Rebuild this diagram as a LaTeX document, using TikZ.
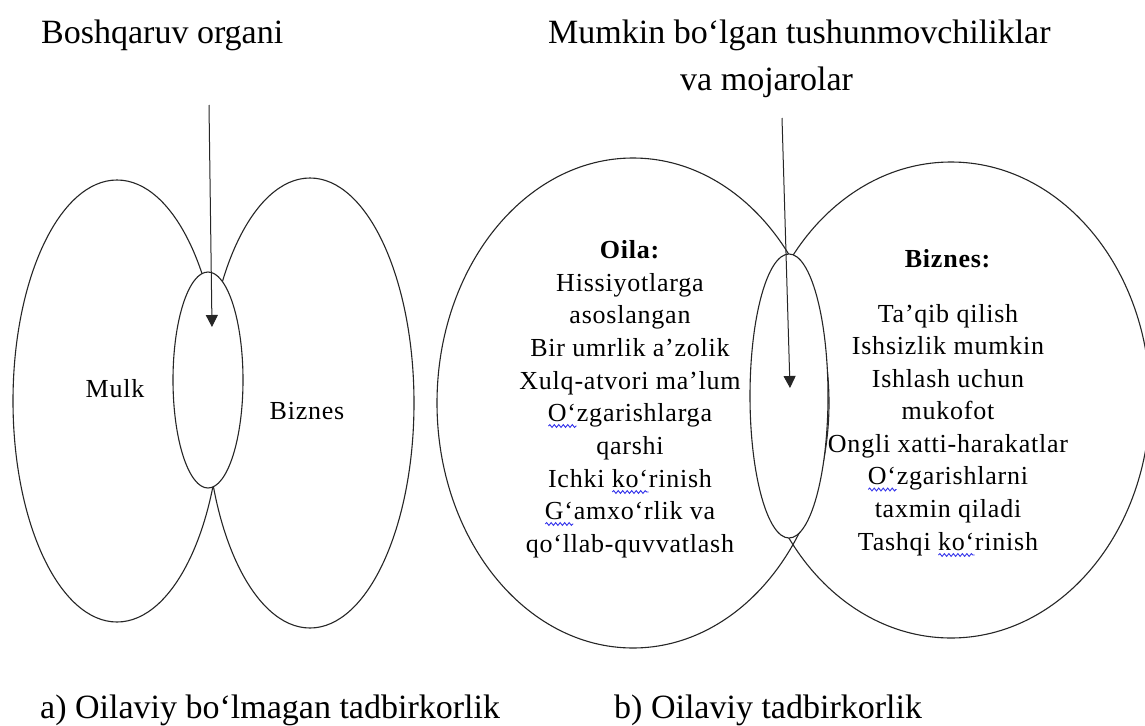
\documentclass[tikz,border=0pt]{standalone}
\usepackage{fontspec}
\setmainfont{Liberation Serif}
\newfontfamily\innerfont{Liberation Serif}[LetterSpace=3]
\usetikzlibrary{arrows.meta,shapes.geometric,decorations.pathmorphing}
\definecolor{wavecol}{RGB}{50,50,235}
\newlength\wvlen
\newcommand\wv[1]{\settowidth\wvlen{#1}\rlap{\raisebox{-5pt}{\tikz[baseline=0pt]\draw[wavecol, line width=0.9pt, decorate, decoration={snake,amplitude=1.4pt,segment length=4.5pt}] (0pt,0pt)--(\wvlen,0pt);}}#1}
\tikzset{
  ell/.style={ellipse, draw=black!85, line width=1.1pt, inner sep=0pt, outer sep=0pt},
  hole/.style={ell, fill=white},
  ttl/.style={font=\fontsize{34}{40}\selectfont, inner sep=0pt, anchor=base west},
  lbl/.style={font=\innerfont\fontsize{26}{32}\selectfont, inner sep=0pt, anchor=base},
  arr/.style={-{Triangle[width=12pt,length=12pt]}, line width=1pt, draw=black!85},
}
\begin{document}
\begin{tikzpicture}[x=1pt,y=-1pt]
\fill[white] (0,0) rectangle (1145,725);
\useasboundingbox (0,0) rectangle (1145,725);
\begin{scope}
\clip (0,0) rectangle (1145,725);
% titles
\node[ttl] (t1) at (41,44) {Boshqaruv organi};
\node[ttl] (t2a) at (548,44) {Mumkin bo‘lgan tushunmovchiliklar};
\node[ttl] (t2b) at (680,90) {va mojarolar};
% left diagram
\node[ell, minimum width=208pt, minimum height=442pt] (mulk) at (117,401) {};
\node[ell, minimum width=208pt, minimum height=450pt] (biz1) at (310,403) {};
\node[hole, minimum width=70pt, minimum height=216pt] (mid1) at (208,380) {};
\coordinate (a1s) at (209,105);
\coordinate (a1e) at (212,327);
\draw[arr] (a1s) -- (a1e);
\node[lbl] (lmulk) at (115,397) {Mulk};
\node[lbl] (lbiz) at (307,419) {Biznes};
% right diagram
\node[ell, minimum width=392pt, minimum height=490pt] (oila) at (633,403) {};
\node[ell, minimum width=398pt, minimum height=476pt] (biz2) at (951,400) {};
\node[hole, minimum width=78pt, minimum height=284pt] (mid2) at (789,396) {};
\coordinate (a2s) at (782,118);
\coordinate (a2e) at (790,388);
\draw[arr] (a2s) -- (a2e);
% Oila text
\node[lbl] (o0) at (630,258) {\textbf{Oila:}};
\node[lbl] (o1) at (630,291) {Hissiyotlarga};
\node[lbl] (o2) at (630,323) {asoslangan};
\node[lbl] (o3) at (630,356) {Bir umrlik a’zolik};
\node[lbl] (o4) at (630,389) {Xulq-atvori ma’lum};
\node[lbl] (o5) at (630,421) {\wv{O‘}zgarishlarga};
\node[lbl] (o6) at (630,454) {qarshi};
\node[lbl] (o7) at (630,487) {Ichki \wv{ko‘}rinish};
\node[lbl] (o8) at (630,519) {\wv{G‘}amxo‘rlik va};
\node[lbl] (o9) at (630,552) {qo‘llab-quvvatlash};
% Biznes text
\node[lbl] (b0) at (948,267) {\textbf{Biznes:}};
\node[lbl] (b1) at (948,322) {Ta’qib qilish};
\node[lbl] (b2) at (948,354.5) {Ishsizlik mumkin};
\node[lbl] (b3) at (948,387) {Ishlash uchun};
\node[lbl] (b4) at (948,419.5) {mukofot};
\node[lbl] (b5) at (948,452) {Ongli xatti-harakatlar};
\node[lbl] (b6) at (948,484.5) {\wv{O‘}zgarishlarni};
\node[lbl] (b7) at (948,517) {taxmin qiladi};
\node[lbl] (b8) at (948,550) {Tashqi \wv{ko‘}rinish};
% captions
\node[ttl] (capa) at (40,718) {a) Oilaviy bo‘lmagan tadbirkorlik};
\node[ttl] (capb) at (614,718) {b) Oilaviy tadbirkorlik};
\end{scope}
\end{tikzpicture}
\end{document}
